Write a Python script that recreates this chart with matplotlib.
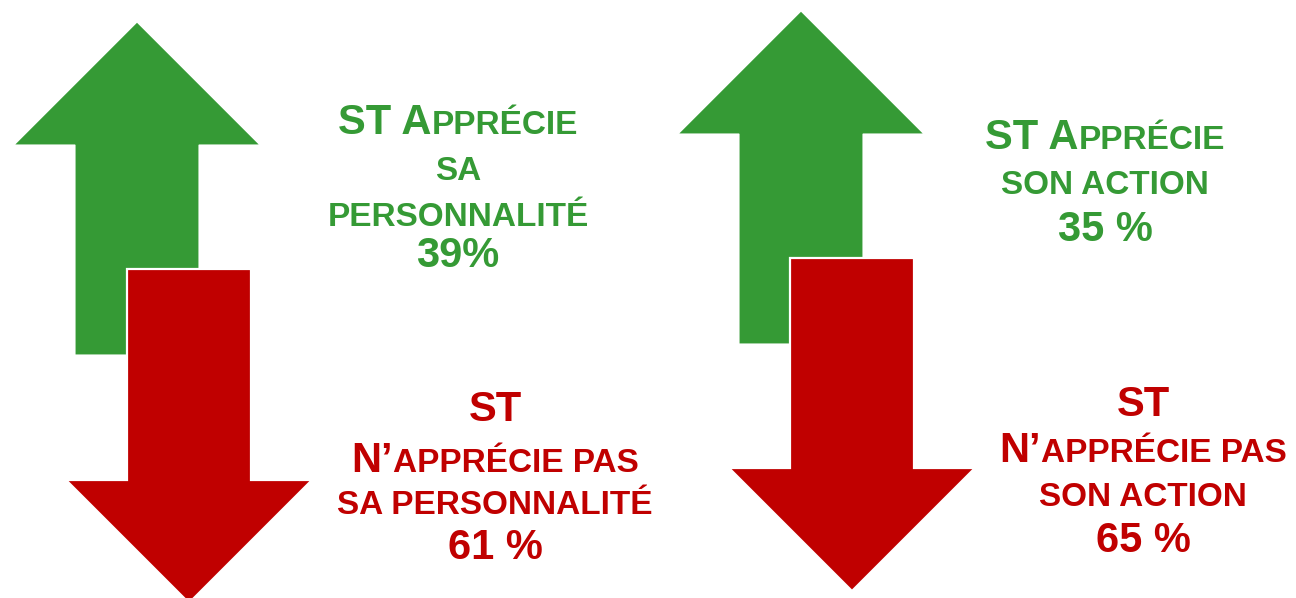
import matplotlib
matplotlib.use("Agg")
import matplotlib.pyplot as plt
from matplotlib.patches import Polygon
from matplotlib.offsetbox import TextArea, HPacker, AnnotationBbox

# data
groups = ["personnalité", "action"]
pct_up = ["39%", "35 %"]
pct_down = ["61 %", "65 %"]
label_up = [["ST Apprécie", "sa", "personnalité"],
            ["ST Apprécie", "son action"]]
label_down = [["ST", "N’apprécie pas", "sa personnalité"],
              ["ST", "N’apprécie pas", "son action"]]

GREEN = "#359a35"
RED = "#c00000"
FONT = "Liberation Sans"

# layout (pixels, y downwards)
arrow_up = [dict(cx=137, tip=22, base=145, tail=355),
            dict(cx=801, tip=11, base=134, tail=344)]
arrow_down = [dict(cx=189, tail=269, base=480, tip=603),
              dict(cx=852, tail=258, base=468, tip=591)]
HEAD_W, SHAFT_W = 246, 124

text_up = [dict(x=458, ys=[123, 171, 218, 256]),
           dict(x=1105, ys=[138, 186, 230])]
text_down = [dict(x=495, ys=[410, 461, 505, 548]),
             dict(x=1143, ys=[405, 451, 498, 541])]

BIG, SMALL, PCT = 30, 24, 30


def arrow(ax, a, color, ew):
    hw, sw = HEAD_W / 2, SHAFT_W / 2
    pts = [(a["cx"], a["tip"]), (a["cx"] + hw, a["base"]), (a["cx"] + sw, a["base"]),
           (a["cx"] + sw, a["tail"]), (a["cx"] - sw, a["tail"]), (a["cx"] - sw, a["base"]),
           (a["cx"] - hw, a["base"])]
    ax.add_patch(Polygon(pts, closed=True, facecolor=color, edgecolor="white", lw=ew))


def smallcaps_runs(s):
    """split text into runs: capitals big, lowercase as small capitals"""
    runs = []
    kind = "big"
    for c in s:
        if c.isalpha():
            kind = "big" if c.isupper() else "small"
        if runs and runs[-1][1] == kind:
            runs[-1][0] += c.upper()
        else:
            runs.append([c.upper(), kind])
    return runs


def put_line(ax, x, y, parts, color):
    boxes = []
    for txt, kind in parts:
        size = {"big": BIG, "small": SMALL, "pct": PCT}[kind]
        boxes.append(TextArea(txt, textprops=dict(fontsize=size, color=color,
                                                  fontweight="bold", family=FONT)))
    pack = HPacker(children=boxes, align="baseline", pad=0, sep=0)
    ab = AnnotationBbox(pack, (x, y), xycoords="data", box_alignment=(0.5, 0.5),
                        frameon=False, pad=0)
    ax.add_artist(ab)


fig = plt.figure(figsize=(12.96, 5.98), dpi=100)
ax = fig.add_axes([0, 0, 1, 1])
ax.set_xlim(0, 1296)
ax.set_ylim(598, 0)
ax.axis("off")

for i in range(len(groups)):
    arrow(ax, arrow_up[i], GREEN, 0.8)
    arrow(ax, arrow_down[i], RED, 1.6)

    t = text_up[i]
    for line, y in zip(label_up[i], t["ys"]):
        put_line(ax, t["x"], y, smallcaps_runs(line), GREEN)
    put_line(ax, t["x"], t["ys"][-1], [(pct_up[i], "pct")], GREEN)

    t = text_down[i]
    for line, y in zip(label_down[i], t["ys"]):
        put_line(ax, t["x"], y, smallcaps_runs(line), RED)
    put_line(ax, t["x"], t["ys"][-1], [(pct_down[i], "pct")], RED)

fig.savefig("out.png", dpi=100, facecolor="white")
